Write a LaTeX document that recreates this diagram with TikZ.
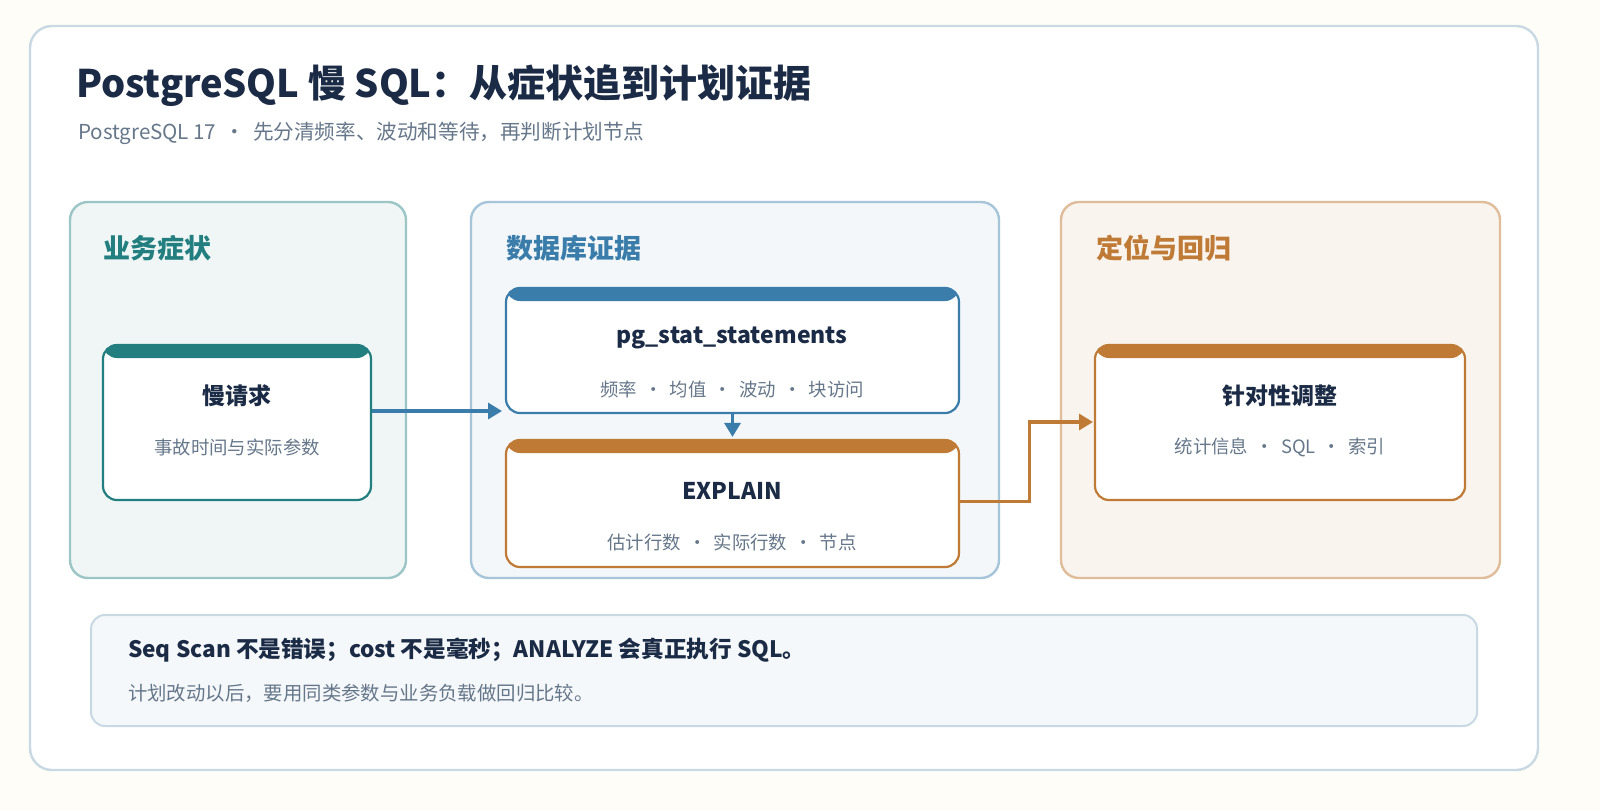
\documentclass[tikz,border=0pt]{standalone}
\usepackage{fontspec}
\setmainfont{Noto Sans CJK SC}
\usepackage{tikz}
\usetikzlibrary{arrows.meta}
\definecolor{pgbg}{HTML}{FFFDF7}
\definecolor{pgframe}{HTML}{C9D9E3}
\definecolor{pgink}{HTML}{1B2B45}
\definecolor{pggrey}{HTML}{66778A}
\definecolor{pgteal}{HTML}{237F7F}
\definecolor{pgblue}{HTML}{3A7DAA}
\definecolor{pgorange}{HTML}{BF7A36}

\tikzset{
  panel/.style={draw=#1, line width=1.2pt, rounded corners=9pt},
  card/.style={draw=#1, fill=white, line width=1.1pt, rounded corners=7pt,
    path picture={\fill[#1] (path picture bounding box.north west) rectangle
      ([yshift=-6.5pt]path picture bounding box.north east);}},
  heading/.style={anchor=west, font=\fontsize{13.5}{15}\selectfont\bfseries, text=#1},
  ctitle/.style={font=\fontsize{11.5}{13}\selectfont\bfseries, text=pgink},
  csub/.style={font=\fontsize{9.2}{11}\selectfont, text=pggrey},
  link/.style={draw=#1, line width=1.6pt, -{Triangle[length=7pt,width=8pt]}}
}

\begin{document}
\begin{tikzpicture}[x=0.5pt, y=-0.5pt]
\useasboundingbox (0,0) rectangle (1600,810);
\fill[pgbg] (0,0) rectangle (1600,810);

% Frame
\draw[fill=white, draw=pgframe, line width=1.2pt, rounded corners=11pt] (30,26) rectangle (1538,770);

% Title
\node[anchor=west, font=\fontsize{19}{22}\selectfont\bfseries, text=pgink] (title) at (69,86) {PostgreSQL 慢 SQL：从症状追到计划证据};
\node[anchor=west, font=\fontsize{10.3}{12}\selectfont, text=pggrey] (subtitle) at (71,133) {PostgreSQL 17 \,·\, 先分清频率、波动和等待，再判断计划节点};

% Panels
\draw[panel=pgteal!45, fill=pgteal!7] (70,202) rectangle (406,578);
\draw[panel=pgblue!45, fill=pgblue!6] (471,202) rectangle (999,578);
\draw[panel=pgorange!50, fill=pgorange!8] (1061,202) rectangle (1500,578);
\node[heading=pgteal] (hsym) at (96,248) {业务症状};
\node[heading=pgblue] (hdb) at (499,248) {数据库证据};
\node[heading=pgorange] (hfix) at (1089,248) {定位与回归};

% Cards
\node[card=pgteal, minimum width=134pt, minimum height=77.5pt] (slow) at (237,422.5) {};
\node[card=pgblue, minimum width=226.5pt, minimum height=62.5pt] (stat) at (732.5,350.5) {};
\node[card=pgorange, minimum width=226.5pt, minimum height=63.5pt] (expl) at (732.5,503.5) {};
\node[card=pgorange, minimum width=185pt, minimum height=77.5pt] (tune) at (1280,422.5) {};

\node[ctitle] (slowt) at (237,396) {慢请求};
\node[csub] (slows) at (237,447) {事故时间与实际参数};
\node[ctitle] (statt) at (732,338) {pg\_stat\_statements};
\node[csub] (stats) at (732,389) {频率 \,·\, 均值 \,·\, 波动 \,·\, 块访问};
\node[ctitle] (explt) at (732,491) {EXPLAIN};
\node[csub] (expls) at (732,542) {估计行数 \,·\, 实际行数 \,·\, 节点};
\node[ctitle] (tunet) at (1280,396) {针对性调整};
\node[csub] (tunes) at (1280,447) {统计信息 \,·\, SQL \,·\, 索引};

% Connectors
\coordinate (statin) at (502,411);
\coordinate (tunein) at (1093,422);
\draw[link=pgblue] (slow.east |- statin) -- (statin);
\draw[link=pgblue] (stat.south) -- ([yshift=1pt]expl.north);
\draw[link=pgorange, rounded corners=0pt] ([yshift=1pt]expl.east) -- ++(69,0) |- (tunein);

% Note
\draw[fill=pgblue!5, draw=pgframe, line width=1pt, rounded corners=7pt] (91,615) rectangle (1477,726);
\node[anchor=west, font=\fontsize{11.3}{13}\selectfont\bfseries, text=pgink] (note) at (121,650) {Seq Scan 不是错误；cost 不是毫秒；ANALYZE 会真正执行 SQL。};
\node[anchor=west, font=\fontsize{9.7}{11}\selectfont, text=pggrey] (notes) at (121,693) {计划改动以后，要用同类参数与业务负载做回归比较。};
\end{tikzpicture}
\end{document}
